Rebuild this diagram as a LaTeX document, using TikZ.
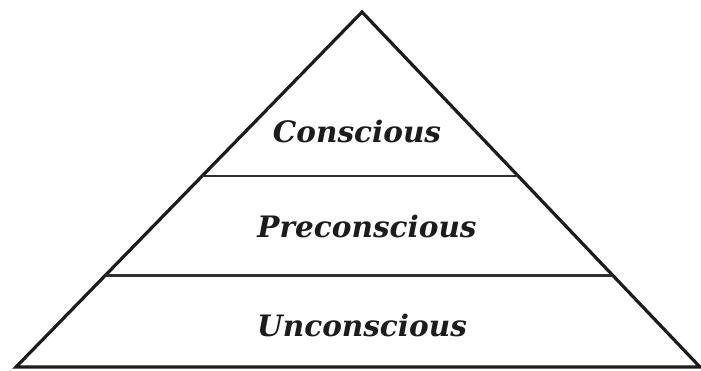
\documentclass[tikz,border=0pt]{standalone}
\usepackage{fontspec}
\usepackage{tikz}
\usetikzlibrary{calc}
\newfontfamily\levelfont{DejaVu Serif}
\definecolor{pyr_black}{HTML}{1C1C1C}
\definecolor{pyr_gray}{HTML}{2E2E2E}

\begin{document}
\begin{tikzpicture}[
    x=1pt, y=-1pt,
    edge/.style={pyr_black, line width=3.2pt, line join=miter},
    divider/.style={pyr_gray, line width=2.2pt},
    level/.style={font=\levelfont\fontsize{29.5}{34}\selectfont\bfseries\itshape,
        text=pyr_black, anchor=base, inner sep=0pt}
]
\useasboundingbox (0,0) rectangle (701,371);

% Pyramid corners (pixel grid of the picture, y pointing down)
\coordinate (apex) at (362,12);
\coordinate (baseL) at (16,367);
\coordinate (baseR) at (700,367);

% Outline
\draw[edge] (baseL) -- (apex) -- (baseR) -- cycle;

% Dividers between the levels
\draw[divider] ($(apex)!0.461!(baseL)$) -- ($(apex)!0.461!(baseR)$);
\draw[divider] ($(apex)!0.742!(baseL)$) -- ($(apex)!0.742!(baseR)$);

% Level labels
\node[level] (conscious) at (357,143) {Conscious};
\node[level] (preconscious) at (367,238) {Preconscious};
\node[level] (unconscious) at (362,336) {Unconscious};

\end{tikzpicture}
\end{document}
